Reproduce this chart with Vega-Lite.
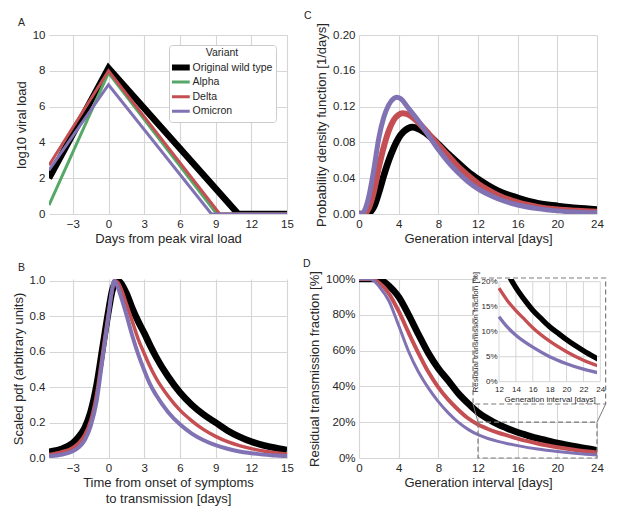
{
  "$schema": "https://vega.github.io/schema/vega-lite/v6.json",
  "padding": {"left": 12, "top": 11, "right": 5, "bottom": 5},
  "datasets": {
    "viral": [
      {"variant": "Original wild type", "x": -5, "y": 2.0},
      {"variant": "Original wild type", "x": 0, "y": 8.15},
      {"variant": "Original wild type", "x": 10.9, "y": 0},
      {"variant": "Original wild type", "x": 15, "y": 0},
      {"variant": "Alpha", "x": -5, "y": 0.5},
      {"variant": "Alpha", "x": 0, "y": 7.88},
      {"variant": "Alpha", "x": 9.1, "y": 0},
      {"variant": "Alpha", "x": 15, "y": 0},
      {"variant": "Delta", "x": -5, "y": 2.72},
      {"variant": "Delta", "x": 0, "y": 8.0},
      {"variant": "Delta", "x": 9.35, "y": 0},
      {"variant": "Delta", "x": 15, "y": 0},
      {"variant": "Omicron", "x": -5, "y": 2.45},
      {"variant": "Omicron", "x": 0, "y": 7.22},
      {"variant": "Omicron", "x": 8.65, "y": 0},
      {"variant": "Omicron", "x": 15, "y": 0}
    ],
    "infect": [
      {"variant": "Original wild type", "x": -5, "y": 0.035},
      {"variant": "Original wild type", "x": -4, "y": 0.05},
      {"variant": "Original wild type", "x": -3, "y": 0.085},
      {"variant": "Original wild type", "x": -2.5, "y": 0.12},
      {"variant": "Original wild type", "x": -2, "y": 0.17},
      {"variant": "Original wild type", "x": -1.5, "y": 0.26},
      {"variant": "Original wild type", "x": -1, "y": 0.41},
      {"variant": "Original wild type", "x": -0.5, "y": 0.62},
      {"variant": "Original wild type", "x": 0, "y": 0.83},
      {"variant": "Original wild type", "x": 0.3, "y": 0.94},
      {"variant": "Original wild type", "x": 0.7, "y": 1.0},
      {"variant": "Original wild type", "x": 1, "y": 0.99},
      {"variant": "Original wild type", "x": 1.5, "y": 0.93},
      {"variant": "Original wild type", "x": 2, "y": 0.845},
      {"variant": "Original wild type", "x": 2.5, "y": 0.77},
      {"variant": "Original wild type", "x": 3, "y": 0.705},
      {"variant": "Original wild type", "x": 3.5, "y": 0.635},
      {"variant": "Original wild type", "x": 4, "y": 0.57},
      {"variant": "Original wild type", "x": 5, "y": 0.46},
      {"variant": "Original wild type", "x": 6, "y": 0.37},
      {"variant": "Original wild type", "x": 7, "y": 0.3},
      {"variant": "Original wild type", "x": 8, "y": 0.245},
      {"variant": "Original wild type", "x": 9, "y": 0.2},
      {"variant": "Original wild type", "x": 10, "y": 0.155},
      {"variant": "Original wild type", "x": 11, "y": 0.12},
      {"variant": "Original wild type", "x": 12, "y": 0.092},
      {"variant": "Original wild type", "x": 13, "y": 0.072},
      {"variant": "Original wild type", "x": 14, "y": 0.057},
      {"variant": "Original wild type", "x": 15, "y": 0.045},
      {"variant": "Delta", "x": -5, "y": 0.02},
      {"variant": "Delta", "x": -4, "y": 0.033},
      {"variant": "Delta", "x": -3, "y": 0.058},
      {"variant": "Delta", "x": -2.5, "y": 0.085},
      {"variant": "Delta", "x": -2, "y": 0.13},
      {"variant": "Delta", "x": -1.5, "y": 0.21},
      {"variant": "Delta", "x": -1, "y": 0.36},
      {"variant": "Delta", "x": -0.5, "y": 0.59},
      {"variant": "Delta", "x": 0, "y": 0.82},
      {"variant": "Delta", "x": 0.3, "y": 0.94},
      {"variant": "Delta", "x": 0.55, "y": 1.0},
      {"variant": "Delta", "x": 0.8, "y": 0.99},
      {"variant": "Delta", "x": 1.2, "y": 0.93},
      {"variant": "Delta", "x": 1.5, "y": 0.87},
      {"variant": "Delta", "x": 2, "y": 0.77},
      {"variant": "Delta", "x": 2.5, "y": 0.67},
      {"variant": "Delta", "x": 3, "y": 0.59},
      {"variant": "Delta", "x": 3.5, "y": 0.515},
      {"variant": "Delta", "x": 4, "y": 0.45},
      {"variant": "Delta", "x": 5, "y": 0.35},
      {"variant": "Delta", "x": 6, "y": 0.27},
      {"variant": "Delta", "x": 7, "y": 0.21},
      {"variant": "Delta", "x": 8, "y": 0.16},
      {"variant": "Delta", "x": 9, "y": 0.122},
      {"variant": "Delta", "x": 10, "y": 0.092},
      {"variant": "Delta", "x": 11, "y": 0.07},
      {"variant": "Delta", "x": 12, "y": 0.053},
      {"variant": "Delta", "x": 13, "y": 0.04},
      {"variant": "Delta", "x": 14, "y": 0.03},
      {"variant": "Delta", "x": 15, "y": 0.022},
      {"variant": "Omicron", "x": -5, "y": 0.01},
      {"variant": "Omicron", "x": -4, "y": 0.018},
      {"variant": "Omicron", "x": -3, "y": 0.038},
      {"variant": "Omicron", "x": -2.5, "y": 0.06},
      {"variant": "Omicron", "x": -2, "y": 0.1},
      {"variant": "Omicron", "x": -1.5, "y": 0.18},
      {"variant": "Omicron", "x": -1, "y": 0.32},
      {"variant": "Omicron", "x": -0.5, "y": 0.56},
      {"variant": "Omicron", "x": 0, "y": 0.8},
      {"variant": "Omicron", "x": 0.25, "y": 0.93},
      {"variant": "Omicron", "x": 0.47, "y": 1.0},
      {"variant": "Omicron", "x": 0.75, "y": 0.97},
      {"variant": "Omicron", "x": 1, "y": 0.92},
      {"variant": "Omicron", "x": 1.5, "y": 0.81},
      {"variant": "Omicron", "x": 2, "y": 0.69},
      {"variant": "Omicron", "x": 2.5, "y": 0.585},
      {"variant": "Omicron", "x": 3, "y": 0.495},
      {"variant": "Omicron", "x": 3.5, "y": 0.415},
      {"variant": "Omicron", "x": 4, "y": 0.355},
      {"variant": "Omicron", "x": 5, "y": 0.26},
      {"variant": "Omicron", "x": 6, "y": 0.19},
      {"variant": "Omicron", "x": 7, "y": 0.138},
      {"variant": "Omicron", "x": 8, "y": 0.1},
      {"variant": "Omicron", "x": 9, "y": 0.072},
      {"variant": "Omicron", "x": 10, "y": 0.052},
      {"variant": "Omicron", "x": 11, "y": 0.037},
      {"variant": "Omicron", "x": 12, "y": 0.027},
      {"variant": "Omicron", "x": 13, "y": 0.019},
      {"variant": "Omicron", "x": 14, "y": 0.014},
      {"variant": "Omicron", "x": 15, "y": 0.01}
    ],
    "gen": [
      {"variant": "Original wild type", "x": 0, "y": 0},
      {"variant": "Original wild type", "x": 0.8, "y": 0},
      {"variant": "Original wild type", "x": 1, "y": 0.001},
      {"variant": "Original wild type", "x": 1.5, "y": 0.008},
      {"variant": "Original wild type", "x": 2, "y": 0.024},
      {"variant": "Original wild type", "x": 2.5, "y": 0.043},
      {"variant": "Original wild type", "x": 3, "y": 0.06},
      {"variant": "Original wild type", "x": 3.5, "y": 0.074},
      {"variant": "Original wild type", "x": 4, "y": 0.085},
      {"variant": "Original wild type", "x": 4.5, "y": 0.092},
      {"variant": "Original wild type", "x": 5, "y": 0.096},
      {"variant": "Original wild type", "x": 5.4, "y": 0.097},
      {"variant": "Original wild type", "x": 6, "y": 0.095},
      {"variant": "Original wild type", "x": 7, "y": 0.088},
      {"variant": "Original wild type", "x": 8, "y": 0.078},
      {"variant": "Original wild type", "x": 9, "y": 0.067},
      {"variant": "Original wild type", "x": 10, "y": 0.057},
      {"variant": "Original wild type", "x": 11, "y": 0.047},
      {"variant": "Original wild type", "x": 12, "y": 0.039},
      {"variant": "Original wild type", "x": 13, "y": 0.032},
      {"variant": "Original wild type", "x": 14, "y": 0.026},
      {"variant": "Original wild type", "x": 16, "y": 0.018},
      {"variant": "Original wild type", "x": 18, "y": 0.012},
      {"variant": "Original wild type", "x": 20, "y": 0.009},
      {"variant": "Original wild type", "x": 22, "y": 0.0065},
      {"variant": "Original wild type", "x": 24, "y": 0.005},
      {"variant": "Delta", "x": 0, "y": 0},
      {"variant": "Delta", "x": 0.5, "y": 0},
      {"variant": "Delta", "x": 0.8, "y": 0.003},
      {"variant": "Delta", "x": 1, "y": 0.007},
      {"variant": "Delta", "x": 1.5, "y": 0.025},
      {"variant": "Delta", "x": 2, "y": 0.052},
      {"variant": "Delta", "x": 2.5, "y": 0.075},
      {"variant": "Delta", "x": 3, "y": 0.093},
      {"variant": "Delta", "x": 3.5, "y": 0.105},
      {"variant": "Delta", "x": 4, "y": 0.111},
      {"variant": "Delta", "x": 4.4, "y": 0.1125},
      {"variant": "Delta", "x": 5, "y": 0.111},
      {"variant": "Delta", "x": 6, "y": 0.102},
      {"variant": "Delta", "x": 7, "y": 0.09},
      {"variant": "Delta", "x": 8, "y": 0.077},
      {"variant": "Delta", "x": 9, "y": 0.065},
      {"variant": "Delta", "x": 10, "y": 0.053},
      {"variant": "Delta", "x": 11, "y": 0.043},
      {"variant": "Delta", "x": 12, "y": 0.034},
      {"variant": "Delta", "x": 13, "y": 0.027},
      {"variant": "Delta", "x": 14, "y": 0.021},
      {"variant": "Delta", "x": 16, "y": 0.013},
      {"variant": "Delta", "x": 18, "y": 0.008},
      {"variant": "Delta", "x": 20, "y": 0.005},
      {"variant": "Delta", "x": 22, "y": 0.0035},
      {"variant": "Delta", "x": 24, "y": 0.0025},
      {"variant": "Omicron", "x": 0, "y": 0},
      {"variant": "Omicron", "x": 0.3, "y": 0},
      {"variant": "Omicron", "x": 0.6, "y": 0.005},
      {"variant": "Omicron", "x": 1, "y": 0.02},
      {"variant": "Omicron", "x": 1.5, "y": 0.05},
      {"variant": "Omicron", "x": 2, "y": 0.085},
      {"variant": "Omicron", "x": 2.5, "y": 0.108},
      {"variant": "Omicron", "x": 3, "y": 0.122},
      {"variant": "Omicron", "x": 3.5, "y": 0.129},
      {"variant": "Omicron", "x": 3.8, "y": 0.1305},
      {"variant": "Omicron", "x": 4.2, "y": 0.129},
      {"variant": "Omicron", "x": 5, "y": 0.118},
      {"variant": "Omicron", "x": 6, "y": 0.104},
      {"variant": "Omicron", "x": 7, "y": 0.088},
      {"variant": "Omicron", "x": 8, "y": 0.072},
      {"variant": "Omicron", "x": 9, "y": 0.058},
      {"variant": "Omicron", "x": 10, "y": 0.046},
      {"variant": "Omicron", "x": 11, "y": 0.036},
      {"variant": "Omicron", "x": 12, "y": 0.028},
      {"variant": "Omicron", "x": 13, "y": 0.022},
      {"variant": "Omicron", "x": 14, "y": 0.017},
      {"variant": "Omicron", "x": 16, "y": 0.01},
      {"variant": "Omicron", "x": 18, "y": 0.006},
      {"variant": "Omicron", "x": 20, "y": 0.0035},
      {"variant": "Omicron", "x": 22, "y": 0.002},
      {"variant": "Omicron", "x": 24, "y": 0.0013}
    ],
    "resid": [
      {"variant": "Original wild type", "x": 0, "y": 1},
      {"variant": "Original wild type", "x": 1, "y": 1},
      {"variant": "Original wild type", "x": 1.8, "y": 1},
      {"variant": "Original wild type", "x": 2.5, "y": 0.985},
      {"variant": "Original wild type", "x": 3, "y": 0.963},
      {"variant": "Original wild type", "x": 3.5, "y": 0.935},
      {"variant": "Original wild type", "x": 4, "y": 0.9},
      {"variant": "Original wild type", "x": 5, "y": 0.8},
      {"variant": "Original wild type", "x": 6, "y": 0.69},
      {"variant": "Original wild type", "x": 7, "y": 0.585},
      {"variant": "Original wild type", "x": 8, "y": 0.5},
      {"variant": "Original wild type", "x": 9, "y": 0.432},
      {"variant": "Original wild type", "x": 10, "y": 0.362},
      {"variant": "Original wild type", "x": 11, "y": 0.305},
      {"variant": "Original wild type", "x": 12, "y": 0.255},
      {"variant": "Original wild type", "x": 13, "y": 0.218},
      {"variant": "Original wild type", "x": 14, "y": 0.188},
      {"variant": "Original wild type", "x": 15, "y": 0.164},
      {"variant": "Original wild type", "x": 16, "y": 0.143},
      {"variant": "Original wild type", "x": 17, "y": 0.126},
      {"variant": "Original wild type", "x": 18, "y": 0.11},
      {"variant": "Original wild type", "x": 19, "y": 0.097},
      {"variant": "Original wild type", "x": 20, "y": 0.084},
      {"variant": "Original wild type", "x": 22, "y": 0.062},
      {"variant": "Original wild type", "x": 24, "y": 0.043},
      {"variant": "Delta", "x": 0, "y": 1},
      {"variant": "Delta", "x": 1.2, "y": 1},
      {"variant": "Delta", "x": 2, "y": 0.98},
      {"variant": "Delta", "x": 3, "y": 0.92},
      {"variant": "Delta", "x": 4, "y": 0.82},
      {"variant": "Delta", "x": 5, "y": 0.7},
      {"variant": "Delta", "x": 6, "y": 0.585},
      {"variant": "Delta", "x": 7, "y": 0.48},
      {"variant": "Delta", "x": 8, "y": 0.395},
      {"variant": "Delta", "x": 9, "y": 0.326},
      {"variant": "Delta", "x": 10, "y": 0.27},
      {"variant": "Delta", "x": 11, "y": 0.222},
      {"variant": "Delta", "x": 12, "y": 0.187},
      {"variant": "Delta", "x": 13, "y": 0.162},
      {"variant": "Delta", "x": 14, "y": 0.142},
      {"variant": "Delta", "x": 15, "y": 0.125},
      {"variant": "Delta", "x": 16, "y": 0.108},
      {"variant": "Delta", "x": 18, "y": 0.081},
      {"variant": "Delta", "x": 20, "y": 0.06},
      {"variant": "Delta", "x": 22, "y": 0.043},
      {"variant": "Delta", "x": 24, "y": 0.03},
      {"variant": "Omicron", "x": 0, "y": 1},
      {"variant": "Omicron", "x": 1, "y": 1},
      {"variant": "Omicron", "x": 1.5, "y": 0.99},
      {"variant": "Omicron", "x": 2, "y": 0.96},
      {"variant": "Omicron", "x": 3, "y": 0.88},
      {"variant": "Omicron", "x": 4, "y": 0.74},
      {"variant": "Omicron", "x": 5, "y": 0.595},
      {"variant": "Omicron", "x": 6, "y": 0.48},
      {"variant": "Omicron", "x": 7, "y": 0.39},
      {"variant": "Omicron", "x": 8, "y": 0.315},
      {"variant": "Omicron", "x": 9, "y": 0.252},
      {"variant": "Omicron", "x": 10, "y": 0.2},
      {"variant": "Omicron", "x": 11, "y": 0.16},
      {"variant": "Omicron", "x": 12, "y": 0.13},
      {"variant": "Omicron", "x": 13, "y": 0.109},
      {"variant": "Omicron", "x": 14, "y": 0.093},
      {"variant": "Omicron", "x": 15, "y": 0.08},
      {"variant": "Omicron", "x": 16, "y": 0.069},
      {"variant": "Omicron", "x": 18, "y": 0.05},
      {"variant": "Omicron", "x": 20, "y": 0.036},
      {"variant": "Omicron", "x": 22, "y": 0.025},
      {"variant": "Omicron", "x": 24, "y": 0.017}
    ]
  },
  "columns": 2,
  "spacing": {"row": 65, "column": 72},
  "bounds": "flush",
  "resolve": {"scale": {"color": "independent"}},
  "concat": [
    {
      "width": 238,
      "height": 179,
      "title": {"text": "A", "dx": -31},
      "data": {"name": "viral"},
      "mark": {"type": "line", "clip": true},
      "encoding": {
        "x": {"field": "x", "type": "quantitative", "scale": {"domain": [-5, 15], "nice": false},
          "axis": {"values": [-3, 0, 3, 6, 9, 12, 15], "title": "Days from peak viral load"}},
        "y": {"field": "y", "type": "quantitative", "scale": {"domain": [0, 10], "nice": false},
          "axis": {"values": [0, 2, 4, 6, 8, 10], "title": "log10 viral load"}},
        "color": {"field": "variant", "type": "nominal",
          "scale": {"domain": ["Original wild type", "Alpha", "Delta", "Omicron"], "range": ["#000000", "#55a868", "#c44e52", "#8172b3"]},
          "legend": {
            "title": "Variant", "orient": "none", "legendX": 120, "legendY": 10,
            "fillColor": "white", "strokeColor": "#cccccc", "cornerRadius": 3, "padding": 3,
            "titleAnchor": "middle", "titleFontSize": 10.5, "titleFontWeight": "normal", "titleColor": "#262626", "titlePadding": 2,
            "labelFontSize": 10.5, "labelColor": "#262626", "labelOffset": 10,
            "symbolType": "stroke", "symbolSize": 625, "clipHeight": 14, "rowPadding": 0.6,
            "encode": {"symbols": {"update": {"strokeWidth": {"signal": "datum.value === 'Original wild type' ? 6 : 3"}}}}
          }},
        "strokeWidth": {"condition": {"test": "datum.variant === 'Original wild type'", "value": 6.5}, "value": 3}
      }
    },
    {
      "width": 238,
      "height": 179,
      "title": {"text": "C", "dx": -55},
      "data": {"name": "gen"},
      "mark": {"type": "line", "clip": true, "interpolate": "monotone"},
      "encoding": {
        "x": {"field": "x", "type": "quantitative", "scale": {"domain": [0, 24], "nice": false},
          "axis": {"values": [0, 4, 8, 12, 16, 20, 24], "title": "Generation interval [days]"}},
        "y": {"field": "y", "type": "quantitative", "scale": {"domain": [0, 0.2], "nice": false},
          "axis": {"values": [0, 0.04, 0.08, 0.12, 0.16, 0.2], "format": ".2f", "title": "Probability density function [1/days]"}},
        "color": {"field": "variant", "type": "nominal",
          "scale": {"domain": ["Original wild type", "Alpha", "Delta", "Omicron"], "range": ["#000000", "#55a868", "#c44e52", "#8172b3"]},
          "legend": null},
        "strokeWidth": {"condition": [
          {"test": "datum.variant === 'Original wild type'", "value": 6.7},
          {"test": "datum.variant === 'Delta'", "value": 6}], "value": 5}
      }
    },
    {
      "width": 238,
      "height": 179,
      "title": {"text": "B", "dx": -31},
      "data": {"name": "infect"},
      "mark": {"type": "line", "clip": true, "interpolate": "monotone"},
      "encoding": {
        "x": {"field": "x", "type": "quantitative", "scale": {"domain": [-5, 15], "nice": false},
          "axis": {"values": [-3, 0, 3, 6, 9, 12, 15], "title": ["Time from onset of symptoms", "to transmission [days]"], "titleLineHeight": 16}},
        "y": {"field": "y", "type": "quantitative", "scale": {"domain": [0, 1.01], "nice": false},
          "axis": {"values": [0, 0.2, 0.4, 0.6, 0.8, 1.0], "format": ".1f", "title": "Scaled pdf (arbitrary units)"}},
        "color": {"field": "variant", "type": "nominal",
          "scale": {"domain": ["Original wild type", "Alpha", "Delta", "Omicron"], "range": ["#000000", "#55a868", "#c44e52", "#8172b3"]},
          "legend": null},
        "strokeWidth": {"condition": [
          {"test": "datum.variant === 'Original wild type'", "value": 6.7},
          {"test": "datum.variant === 'Delta'", "value": 3.5}], "value": 4}
      }
    },
    {
      "width": 238,
      "height": 179,
      "title": {"text": "D", "dx": -56},
      "resolve": {"scale": {"x": "independent", "y": "independent"}},
      "layer": [
        {
          "data": {"name": "resid"},
          "mark": {"type": "line", "clip": true, "interpolate": "monotone"},
          "encoding": {
            "x": {"field": "x", "type": "quantitative", "scale": {"domain": [0, 24], "nice": false},
              "axis": {"orient": "bottom", "values": [0, 4, 8, 12, 16, 20, 24], "labelOverlap": false, "title": "Generation interval [days]"}},
            "y": {"field": "y", "type": "quantitative", "scale": {"domain": [0, 1], "nice": false},
              "axis": {"orient": "left", "values": [0, 0.2, 0.4, 0.6, 0.8, 1], "labelOverlap": false, "format": ".0%", "title": "Residual transmission fraction [%]"}},
            "color": {"field": "variant", "type": "nominal",
              "scale": {"domain": ["Original wild type", "Alpha", "Delta", "Omicron"], "range": ["#000000", "#55a868", "#c44e52", "#8172b3"]},
              "legend": null},
            "strokeWidth": {"condition": [
              {"test": "datum.variant === 'Original wild type'", "value": 6.7},
              {"test": "datum.variant === 'Delta'", "value": 4}], "value": 3}
          }
        },
        {
          "data": {"values": [{}]},
          "layer": [
            {
              "mark": {"type": "rect", "fill": null, "stroke": "#7a7a7a", "strokeWidth": 1.2, "strokeDash": [5, 3]},
              "encoding": {
                "x": {"datum": 12, "scale": {"domain": [0, 24], "nice": false}, "axis": null}, "x2": {"datum": 24},
                "y": {"datum": 0, "scale": {"domain": [0, 1], "nice": false}, "axis": null}, "y2": {"datum": 0.2}
              }
            },
            {
              "mark": {"type": "rule", "stroke": "#7a7a7a", "strokeWidth": 1},
              "encoding": {
                "x": {"datum": 12, "axis": null}, "x2": {"datum": 11.5},
                "y": {"datum": 0.2, "axis": null}, "y2": {"datum": 0.3017}
              }
            },
            {
              "mark": {"type": "rule", "stroke": "#7a7a7a", "strokeWidth": 1},
              "encoding": {
                "x": {"datum": 24, "axis": null}, "x2": {"datum": 24.87},
                "y": {"datum": 0.2, "axis": null}, "y2": {"datum": 0.3017}
              }
            },
            {
              "mark": {"type": "rect", "fill": "white", "stroke": "#7a7a7a", "strokeWidth": 1.2, "strokeDash": [5, 3]},
              "encoding": {
                "x": {"datum": 11.5, "axis": null}, "x2": {"datum": 24.87},
                "y": {"datum": 0.3017, "axis": null}, "y2": {"datum": 1.0056}
              }
            }
          ]
        },
        {
          "layer": [
            {
              "data": {"values": [{"g": 12}, {"g": 14}, {"g": 16}, {"g": 18}, {"g": 20}, {"g": 22}, {"g": 24}]},
              "mark": {"type": "rule", "stroke": "#d6d6d6", "strokeWidth": 1},
              "encoding": {
                "x": {"field": "g", "type": "quantitative", "scale": {"domain": [12, 24], "range": [140, 241.3], "nice": false}, "axis": null},
                "y": {"datum": 0, "scale": {"domain": [0, 0.2], "range": [102.7, 2.7], "nice": false}, "axis": null},
                "y2": {"datum": 0.2}
              }
            },
            {
              "data": {"values": [{"h": 0}, {"h": 0.05}, {"h": 0.1}, {"h": 0.15}, {"h": 0.2}]},
              "mark": {"type": "rule", "stroke": "#d6d6d6", "strokeWidth": 1},
              "encoding": {
                "y": {"field": "h", "type": "quantitative", "axis": null},
                "x": {"datum": 12, "axis": null},
                "x2": {"datum": 24}
              }
            }
          ]
        },
        {
          "data": {"name": "resid"},
          "transform": [{"filter": "datum.x >= 12"}],
          "mark": {"type": "line", "clip": true, "interpolate": "monotone"},
          "encoding": {
            "x": {"field": "x", "type": "quantitative", "scale": {"domain": [12, 24], "range": [140, 241.3], "nice": false},
              "axis": {"orient": "bottom", "offset": -76, "values": [12, 14, 16, 18, 20, 22, 24], "labelOverlap": false, "title": "Generation interval [days]",
                "labelFontSize": 8, "titleFontSize": 8, "labelPadding": 3, "titlePadding": 2, "grid": false, "zindex": 1}},
            "y": {"field": "y", "type": "quantitative", "scale": {"domain": [0, 0.2], "range": [102.7, 2.7], "nice": false},
              "axis": {"orient": "left", "offset": -140, "values": [0, 0.05, 0.1, 0.15, 0.2], "labelOverlap": false, "format": ".0%", "title": "Residual transmission fraction [%]",
                "labelFontSize": 8, "titleFontSize": 8, "labelPadding": 2, "titlePadding": 1, "grid": false, "zindex": 1}},
            "color": {"field": "variant", "type": "nominal",
              "scale": {"domain": ["Original wild type", "Alpha", "Delta", "Omicron"], "range": ["#000000", "#55a868", "#c44e52", "#8172b3"]},
              "legend": null},
            "strokeWidth": {"condition": {"test": "datum.variant === 'Original wild type'", "value": 5.3}, "value": 3.3}
          }
        }
      ]
    }
  ],
  "config": {
    "font": "Liberation Sans",
    "view": {"stroke": null},
    "title": {"fontSize": 10.5, "fontWeight": "normal", "color": "#262626", "anchor": "start", "frame": "group", "offset": 1},
    "axis": {
      "domain": false, "ticks": false, "grid": true, "gridColor": "#d6d6d6", "gridWidth": 1.1,
      "labelFontSize": 11.5, "labelColor": "#262626", "labelPadding": 4, "labelFlush": false, "labelOverlap": false,
      "titleFontSize": 13, "titleFontWeight": "normal", "titleColor": "#262626", "titlePadding": 3
    },
    "axisY": {"titlePadding": 4}
  }
}
